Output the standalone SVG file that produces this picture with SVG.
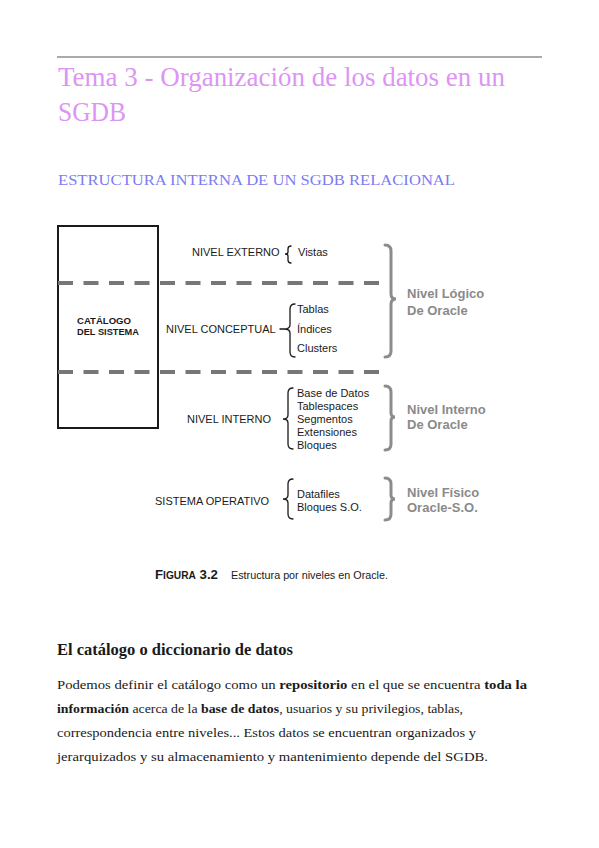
<svg xmlns="http://www.w3.org/2000/svg" width="599" height="848" viewBox="0 0 599 848">
<style>
.title{font-family:"Liberation Serif","DejaVu Serif",serif;font-size:28px;fill:#dc95f4;}
.h2{font-family:"Liberation Serif","DejaVu Serif",serif;font-size:15px;fill:#7b7bf2;}
.lab{font-family:"Liberation Sans",Arial,sans-serif;font-size:11px;fill:#1a1a1a;}
.cat{font-family:"Liberation Sans",Arial,sans-serif;font-size:9px;font-weight:bold;fill:#1a1a1a;}
.ora{font-family:"Liberation Sans",Arial,sans-serif;font-size:13px;font-weight:bold;fill:#8a8a8a;}
.cap{font-family:"Liberation Sans",Arial,sans-serif;fill:#1a1a1a;}
.sec{font-family:"Liberation Serif","DejaVu Serif",serif;font-size:17px;font-weight:bold;fill:#1a1a1a;}
.par{font-family:"Liberation Serif","DejaVu Serif",serif;font-size:13.5px;fill:#1a1a1a;}
.b{font-weight:bold;}
.dash{stroke:#777;stroke-width:4;stroke-dasharray:15 10.5;fill:none;}
.bl{fill:none;stroke:#1a1a1a;stroke-width:1.3;stroke-linecap:round;}
.br{fill:none;stroke:#8c8c8c;stroke-width:3;stroke-linecap:round;}
</style>
<rect width="599" height="848" fill="#ffffff"/>
<line x1="57" y1="57" x2="542" y2="57" stroke="#aaaaaa" stroke-width="2"/>
<g id="title">
<text class="title" x="58" y="86" textLength="447" lengthAdjust="spacingAndGlyphs">Tema 3 - Organización de los datos en un</text>
<text class="title" x="58" y="121" textLength="68" lengthAdjust="spacingAndGlyphs">SGDB</text>
</g>
<g id="subtitle">
<text class="h2" x="58" y="185" textLength="397" lengthAdjust="spacingAndGlyphs">ESTRUCTURA INTERNA DE UN SGDB RELACIONAL</text>
</g>
<g id="catalogo">
<rect x="58" y="226" width="100" height="202" fill="none" stroke="#1a1a1a" stroke-width="2"/>
<text class="cat" x="77" y="324" textLength="54" lengthAdjust="spacingAndGlyphs">CATÁLOGO</text>
<text class="cat" x="77" y="335" textLength="62" lengthAdjust="spacingAndGlyphs">DEL SISTEMA</text>
</g>
<g id="connectors">
<line class="dash" x1="58" y1="283" x2="381" y2="283"/>
<line class="dash" x1="58" y1="372" x2="381" y2="372"/>
<path class="bl" stroke-width="2" d="M291,246 Q288,246 288,249 L288,252 Q288,254 285,254 Q288,254 288,256 L288,260 Q288,263 291,263"/>
<path class="bl" d="M295,304 Q290,304 290,309 L290,325 Q290,329 284,329 L280,329 M284,329 Q290,329 290,333 L290,352 Q290,357 295,357"/>
<path class="bl" d="M293,388 Q288,388 288,393 L288,415 Q288,419 283,419 Q288,419 288,423 L288,444 Q288,449 293,449"/>
<path class="bl" d="M293,479 Q288,479 288,484 L288,495 Q288,499 283,499 Q288,499 288,503 L288,514 Q288,519 293,519"/>
<path class="br" d="M385,245 Q391,245 391,251 L391,294 Q391,299 396,299 Q391,299 391,304 L391,351 Q391,357 385,357"/>
<path class="br" d="M385,386 Q391,386 391,392 L391,413 Q391,417 395,417 Q391,417 391,421 L391,444 Q391,450 385,450"/>
<path class="br" d="M385,478 Q391,478 391,484 L391,495 Q391,499 395,499 Q391,499 391,503 L391,514 Q391,520 385,520"/>
</g>
<g id="nivel-externo">
<text class="lab" x="192" y="256">NIVEL EXTERNO</text>
<text class="lab" x="298" y="256">Vistas</text>
</g>
<g id="nivel-conceptual">
<text class="lab" x="166" y="333">NIVEL CONCEPTUAL</text>
<text class="lab" x="297" y="313">Tablas</text>
<text class="lab" x="297" y="333">Índices</text>
<text class="lab" x="297" y="352">Clusters</text>
</g>
<g id="nivel-logico">
<text class="ora" x="407" y="298">Nivel Lógico</text>
<text class="ora" x="407" y="315">De Oracle</text>
</g>
<g id="nivel-interno">
<text class="lab" x="187" y="423">NIVEL INTERNO</text>
<text class="lab" x="297" y="397">Base de Datos</text>
<text class="lab" x="297" y="410">Tablespaces</text>
<text class="lab" x="297" y="423">Segmentos</text>
<text class="lab" x="297" y="436">Extensiones</text>
<text class="lab" x="297" y="449">Bloques</text>
</g>
<g id="nivel-interno-oracle">
<text class="ora" x="407" y="414">Nivel Interno</text>
<text class="ora" x="407" y="429">De Oracle</text>
</g>
<g id="sistema-operativo">
<text class="lab" x="155" y="505">SISTEMA OPERATIVO</text>
<text class="lab" x="297" y="498">Datafiles</text>
<text class="lab" x="297" y="511">Bloques S.O.</text>
</g>
<g id="nivel-fisico">
<text class="ora" x="407" y="497">Nivel Físico</text>
<text class="ora" x="407" y="512">Oracle-S.O.</text>
</g>
<g id="caption">
<text class="cap" x="155" y="579" font-weight="bold" font-size="13" textLength="63" lengthAdjust="spacingAndGlyphs"><tspan>F</tspan><tspan font-size="10">IGURA</tspan><tspan> 3.2</tspan></text>
<text class="cap" x="231" y="579" font-size="11" textLength="157" lengthAdjust="spacingAndGlyphs">Estructura por niveles en Oracle.</text>
</g>
<g id="texto">
<text class="sec" x="57" y="655" textLength="236" lengthAdjust="spacingAndGlyphs">El catálogo o diccionario de datos</text>
<text class="par" x="57" y="689" textLength="470" lengthAdjust="spacingAndGlyphs">Podemos definir el catálogo como un <tspan class="b">repositorio</tspan> en el que se encuentra <tspan class="b">toda la</tspan></text>
<text class="par" x="57" y="713" textLength="406" lengthAdjust="spacingAndGlyphs"><tspan class="b">información</tspan> acerca de la <tspan class="b">base de datos</tspan>, usuarios y su privilegios, tablas,</text>
<text class="par" x="57" y="737" textLength="419" lengthAdjust="spacingAndGlyphs">correspondencia entre niveles... Estos datos se encuentran organizados y</text>
<text class="par" x="57" y="761" textLength="431" lengthAdjust="spacingAndGlyphs">jerarquizados y su almacenamiento y mantenimiento depende del SGDB.</text>
</g>
</svg>
